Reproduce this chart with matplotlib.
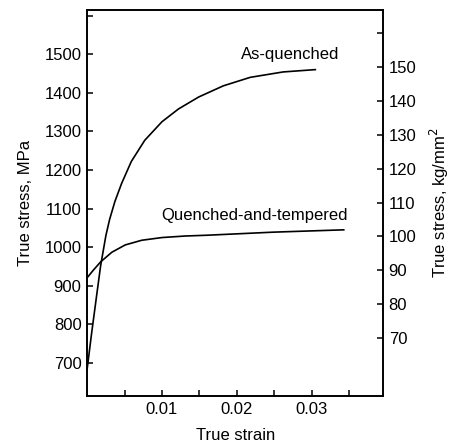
import matplotlib.pyplot as plt

plt.rcParams['font.family'] = ['Liberation Sans', 'DejaVu Sans']

## curve data: true strain vs true stress (MPa)
strain_aq = [0, 0.0006, 0.0013, 0.0018, 0.0025, 0.003, 0.0037, 0.0046, 0.0059, 0.0077,
             0.01, 0.0122, 0.0149, 0.0182, 0.0218, 0.0262, 0.0305]
stress_aq = [685, 778, 880, 952, 1030, 1072, 1118, 1165, 1222, 1277,
             1325, 1358, 1389, 1418, 1440, 1454, 1460]

strain_qt = [0, 0.0008, 0.0018, 0.0033, 0.0051, 0.0073, 0.01, 0.0131, 0.016, 0.0249, 0.0343]
stress_qt = [921, 940, 962, 987, 1006, 1018, 1025, 1029, 1031, 1039, 1045]

## tick settings
mpa_ticks = [700, 800, 900, 1000, 1100, 1200, 1300, 1400, 1500, 1600]
mpa_labels = ["700", "800", "900", "1000", "1100", "1200", "1300", "1400", "1500", ""]
kg_ticks = [70, 80, 90, 100, 110, 120, 130, 140, 150, 160]
kg_labels = ["70", "80", "90", "100", "110", "120", "130", "140", "150", ""]
strain_major = [0.01, 0.02, 0.03]
strain_minor = [0.005, 0.015, 0.025, 0.035]

fig = plt.figure(figsize=(4.54, 4.42), dpi=100)
ax = fig.add_axes([0.192, 0.104, 0.652, 0.873])

ax.plot(strain_aq, stress_aq, color="black", lw=1.2)
ax.plot(strain_qt, stress_qt, color="black", lw=1.2)

ax.text(0.0272, 1500, "As-quenched", ha="center", va="center", fontsize=12)
ax.text(0.0224, 1082, "Quenched-and-tempered", ha="center", va="center", fontsize=12)

ax.set_xlim(0, 0.03957)
ax.set_ylim(614.5, 1614)
ax.set_xticks(strain_major)
ax.set_xticklabels(["0.01", "0.02", "0.03"])
ax.set_xticks(strain_minor, minor=True)
ax.set_yticks(mpa_ticks)
ax.set_yticklabels(mpa_labels)
ax.tick_params(axis="both", which="both", direction="in", length=4, width=1.1, labelsize=12, pad=4)
ax.set_xlabel("True strain", fontsize=12, labelpad=8)
ax.set_ylabel("True stress, MPa", fontsize=12, labelpad=8)

ax2 = ax.twinx()
ax2.set_ylim(52.9, 166.8)
ax2.set_yticks(kg_ticks)
ax2.set_yticklabels(kg_labels)
ax2.tick_params(axis="y", direction="in", length=4, width=1.1, labelsize=12, pad=4)
ax2.set_ylabel("True stress, kg/mm$^2$", fontsize=12, labelpad=8)

for a in (ax, ax2):
    for s in a.spines.values():
        s.set_linewidth(1.2)

fig.savefig("out.png", dpi=100)
